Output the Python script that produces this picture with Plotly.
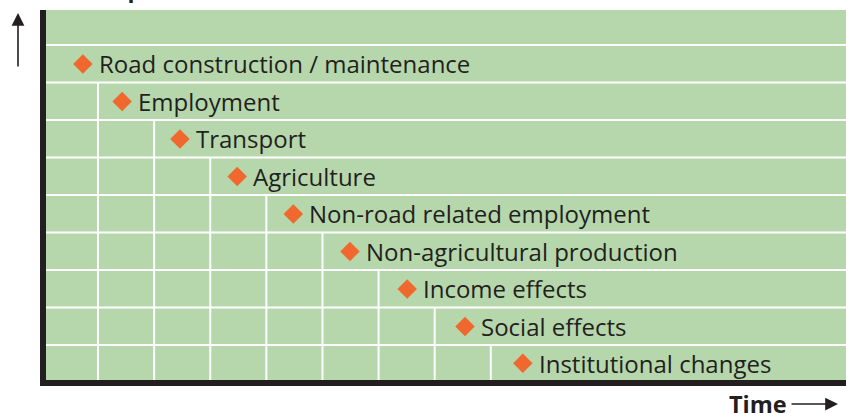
import plotly.graph_objects as go

# ---- data ----
labels = ["Road construction / maintenance", "Employment", "Transport", "Agriculture",
          "Non-road related employment", "Non-agricultural production", "Income effects",
          "Social effects", "Institutional changes"]
onset = [0.73, 1.43, 2.46, 3.48, 4.48, 5.49, 6.51, 7.54, 8.57]   # time position of marker
level = [8.43, 7.43, 6.43, 5.43, 4.43, 3.43, 2.43, 1.43, 0.45]   # row (impact level)
row_tops = [8.933, 7.933, 6.933, 5.933, 4.933, 3.933, 2.933, 1.933, 0.933]  # horizontal lines
stage_x = [1, 2, 3, 4, 5, 6, 7, 8]                                 # vertical stage lines

X0, X1 = 0.073, 14.33
Y0, Y1 = 0.0, 9.867

GREEN = "#B6D7AC"
ORANGE = "#F0682E"
INK = "#231F20"
FONT = "Open Sans"

fig = go.Figure()

shapes = []
for yt in row_tops:
    shapes.append(dict(type="line", xref="x", yref="y", x0=X0, x1=X1, y0=yt, y1=yt,
                       line=dict(color="white", width=2), layer="below"))
for k, xs in enumerate(stage_x):
    shapes.append(dict(type="line", xref="x", yref="y", x0=xs, x1=xs, y0=Y0, y1=row_tops[k + 1],
                       line=dict(color="white", width=2), layer="below"))

fig.add_trace(go.Scatter(x=onset, y=level, mode="markers",
                         marker=dict(symbol="diamond", size=15, color=ORANGE, line=dict(width=0)),
                         hoverinfo="skip", showlegend=False))

annotations = []
for lab, xv, yv in zip(labels, onset, level):
    annotations.append(dict(x=xv, y=yv, xref="x", yref="y", text=lab, showarrow=False,
                            xanchor="left", yanchor="middle", xshift=14,
                            font=dict(family=FONT, size=24, color=INK)))

# cropped axis title at top
annotations.append(dict(x=-0.02, y=1.0115, xref="paper", yref="paper", text="<b>Local impact</b>",
                        showarrow=False, xanchor="left", yanchor="bottom",
                        font=dict(family=FONT, size=23, color=INK)))
# up arrow
annotations.append(dict(x=-0.035, y=0.992, xref="paper", yref="paper", text="", showarrow=True,
                        ax=0, ay=55, arrowhead=2, arrowsize=1.6, arrowwidth=1.6, arrowcolor=INK))
# Time label + arrow
annotations.append(dict(x=0.9285, y=-0.065, xref="paper", yref="paper", text="<b>Time</b>",
                        showarrow=False, xanchor="right", yanchor="middle",
                        font=dict(family=FONT, size=23.5, color=INK)))
annotations.append(dict(x=0.99, y=-0.065, xref="paper", yref="paper", text="", showarrow=True,
                        ax=-48, ay=0, arrowhead=2, arrowsize=1.6, arrowwidth=1.6, arrowcolor=INK))

fig.update_layout(
    width=846, height=413,
    margin=dict(l=46, r=0, t=10, b=33),
    paper_bgcolor="white", plot_bgcolor=GREEN,
    shapes=shapes, annotations=annotations,
    xaxis=dict(range=[X0, X1], showgrid=False, zeroline=False, showticklabels=False,
               ticks="", showline=True, linecolor=INK, linewidth=6),
    yaxis=dict(range=[Y0, Y1], showgrid=False, zeroline=False, showticklabels=False,
               ticks="", showline=True, linecolor=INK, linewidth=6),
    showlegend=False,
)

fig.write_html("out.html", config={"displayModeBar": False},
               post_script="document.body.style.margin='0';document.body.style.overflow='hidden';")
